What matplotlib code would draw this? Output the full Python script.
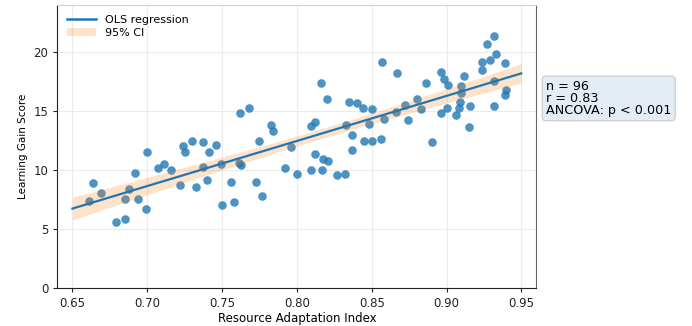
import numpy as np
import matplotlib
matplotlib.use('Agg')
import matplotlib.pyplot as plt
from matplotlib.patches import Patch
from matplotlib.lines import Line2D

# data
resource_index = [
    0.661, 0.664, 0.669, 0.679, 0.685, 0.685, 0.6875, 0.692, 0.694, 0.699,
    0.700, 0.707, 0.711, 0.716, 0.722, 0.724, 0.725, 0.730, 0.7325, 0.737,
    0.737, 0.740, 0.741, 0.746, 0.749, 0.750, 0.756, 0.758, 0.761, 0.762,
    0.763, 0.768, 0.773, 0.775, 0.777, 0.783, 0.784, 0.792, 0.796, 0.800,
    0.8095, 0.8095, 0.812, 0.812, 0.816, 0.817, 0.8175, 0.820, 0.821, 0.827,
    0.832, 0.833, 0.835, 0.837, 0.837, 0.840, 0.844, 0.845, 0.848, 0.850,
    0.850, 0.856, 0.857, 0.858, 0.866, 0.867, 0.872, 0.874, 0.880, 0.883,
    0.886, 0.890, 0.896, 0.896, 0.898, 0.900, 0.901, 0.9066, 0.9086, 0.909,
    0.910, 0.910, 0.912, 0.915, 0.916, 0.924, 0.924, 0.927, 0.929, 0.932,
    0.932, 0.932, 0.933, 0.939, 0.939, 0.940,
]
learning_gain = [
    7.35, 8.9, 8.1, 5.6, 5.9, 7.55, 8.4, 9.8, 7.55, 6.7,
    11.5, 10.2, 10.5, 10.0, 8.7, 12.05, 11.55, 12.5, 8.55, 12.35,
    10.25, 9.2, 11.55, 12.15, 10.5, 7.05, 9.0, 7.3, 10.6, 14.85,
    10.45, 15.3, 9.0, 12.45, 7.8, 13.85, 13.3, 10.15, 11.95, 9.7,
    13.75, 10.0, 14.05, 11.4, 17.4, 10.0, 10.95, 16.05, 10.75, 9.6,
    9.65, 13.85, 15.75, 13.0, 11.7, 15.7, 15.3, 12.5, 13.9, 12.5,
    15.15, 12.6, 19.15, 14.3, 14.9, 18.2, 15.5, 14.25, 16.0, 15.2,
    17.4, 12.35, 18.35, 14.8, 17.75, 15.25, 17.2, 14.7, 15.3, 15.75,
    16.5, 17.15, 18.0, 13.65, 15.4, 19.15, 18.45, 20.7, 19.3, 21.4,
    17.55, 15.45, 19.8, 19.1, 16.35, 16.8,
]
x_ticks = [0.65, 0.70, 0.75, 0.80, 0.85, 0.90, 0.95]
y_ticks = [0, 5, 10, 15, 20]
stats_text = 'n = 96\nr = 0.83\nANCOVA: p < 0.001'

x = np.array(resource_index)
y = np.array(learning_gain)

# OLS fit and 95% confidence band for the mean
n = len(x)
slope, intercept = np.polyfit(x, y, 1)
resid = y - (slope * x + intercept)
s_err = np.sqrt(np.sum(resid ** 2) / (n - 2))
t_val = 1.986
x_fit = np.linspace(0.65, 0.95, 100)
y_fit = slope * x_fit + intercept
se_fit = s_err * np.sqrt(1 / n + (x_fit - x.mean()) ** 2 / np.sum((x - x.mean()) ** 2))

fig = plt.figure(figsize=(6.92, 3.26), dpi=100)
ax = fig.add_axes([0.083, 0.116, 0.692, 0.869])

ax.grid(True, color='#ebebeb', linewidth=0.8, zorder=0)
ax.set_axisbelow(True)

ax.scatter(x, y, s=38, color='#1f77b4', alpha=0.8, linewidths=0, zorder=2)
ax.fill_between(x_fit, y_fit - t_val * se_fit, y_fit + t_val * se_fit,
                color='#ff7f0e', alpha=0.22, linewidth=0, zorder=3)
ax.plot(x_fit, y_fit, color='#1f77b4', linewidth=1.6, zorder=4)

ax.set_xlim(0.64, 0.96)
ax.set_ylim(0, 24)
ax.set_xticks(x_ticks)
ax.set_xticklabels(['%.2f' % t for t in x_ticks])
ax.set_yticks(y_ticks)
ax.tick_params(labelsize=8.5, length=3, width=0.8, colors='#222222')
ax.set_xlabel('Resource Adaptation Index', fontsize=8.5, labelpad=1)
ax.set_ylabel('Learning Gain Score', fontsize=7.5, labelpad=4)

ax.spines['top'].set_color('#d0d0d0')
ax.spines['right'].set_color('#666666')
ax.spines['left'].set_color('#222222')
ax.spines['bottom'].set_color('#222222')

handles = [Line2D([], [], color='#1f77b4', linewidth=1.8),
           Patch(facecolor='#ff7f0e', alpha=0.22, edgecolor='none')]
ax.legend(handles, ['OLS regression', '95% CI'], loc='upper left',
          frameon=False, fontsize=8, handlelength=2.6,
          borderaxespad=0.5, labelspacing=0.3)

fig.text(0.789, 0.698, stats_text, fontsize=9.2, va='center', ha='left',
         linespacing=0.9,
         bbox=dict(boxstyle='round,pad=0.3', facecolor='#e4edf5',
                   edgecolor='#c8c8c8', linewidth=0.8))

fig.savefig('out.png', dpi=100)
